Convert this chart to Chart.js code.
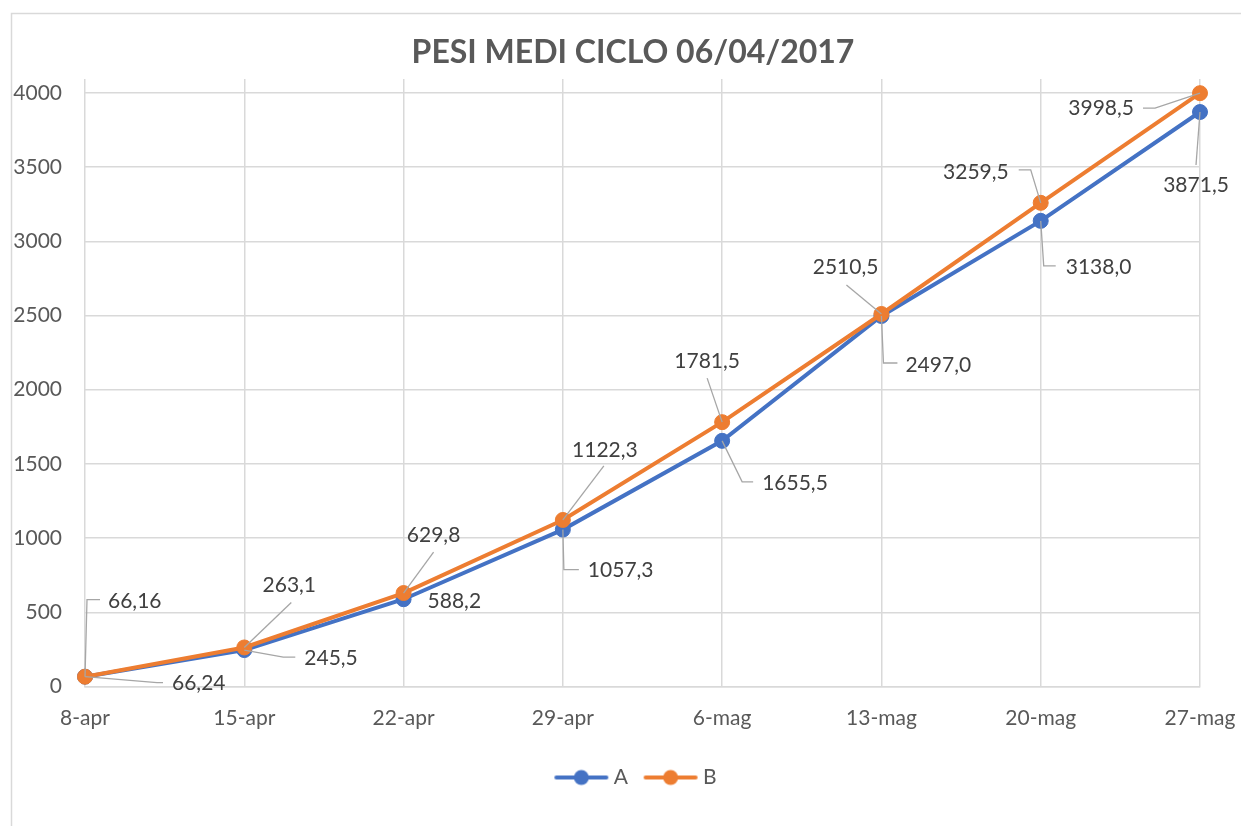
<!DOCTYPE html>
<html><head><meta charset="utf-8">
<script src="https://cdn.jsdelivr.net/npm/chart.js@4.4.1/dist/chart.umd.min.js"></script>
<style>html,body{margin:0;padding:0;background:#fff}#wrap{width:1241px;height:826px;position:relative}</style>
</head><body><div id="wrap"><canvas id="c"></canvas></div>
<script>
const categories = ['8-apr','15-apr','22-apr','29-apr','6-mag','13-mag','20-mag','27-mag'];
const seriesA = [66.24, 245.5, 588.2, 1057.3, 1655.5, 2497.0, 3138.0, 3871.5];
const seriesB = [66.16, 263.1, 629.8, 1122.3, 1781.5, 2510.5, 3259.5, 3998.5];
const yTicks = [0, 500, 1000, 1500, 2000, 2500, 3000, 3500, 4000];
const seriesNames = ['A', 'B'];
const titleText = 'PESI MEDI CICLO 06/04/2017';

// label placement (style only): offsets from the point, alignment, leader polyline
const layoutA = [
  {dx:87, dy:7, align:'left', lead:[[0,0],[72,6],[78,6]]},
  {dx:60, dy:8, align:'left', lead:[[0,0],[39,7],[51,7]]},
  {dx:24, dy:2, align:'left', lead:null},
  {dx:25, dy:41, align:'left', lead:[[0,0],[1,40],[16,40]]},
  {dx:40, dy:42, align:'left', lead:[[0,0],[20,41],[31,41]]},
  {dx:24, dy:49, align:'left', lead:[[0,0],[2,47],[16,47]]},
  {dx:25, dy:46, align:'left', lead:[[0,0],[3,45],[15,45]]},
  {dx:-4, dy:73, align:'center', lead:[[0,0],[-4,53]]}
];
const layoutB = [
  {dx:23, dy:-75, align:'left', lead:[[0,0],[2,-77],[15,-77]]},
  {dx:45, dy:-62, align:'center', lead:[[0,0],[47,-45]]},
  {dx:30, dy:-58, align:'center', lead:[[0,0],[30,-41]]},
  {dx:42, dy:-70, align:'center', lead:[[0,0],[41,-54]]},
  {dx:-15, dy:-61, align:'center', lead:[[0,0],[-15,-44]]},
  {dx:-3, dy:-47, align:'right', lead:[[0,0],[-35,-29]]},
  {dx:-32, dy:-31, align:'right', lead:[[0,0],[-10,-33],[-22,-33]]},
  {dx:-66, dy:15, align:'right', lead:[[0,0],[-45,15],[-57,15]]}
];

const COLORS = ['#4472C4', '#ED7D31'];
const FONT = 'Lato';

const fmt = v => {
  const d = Math.abs(Math.round(v * 10) - v * 10) < 1e-6 ? 1 : 2;
  return v.toFixed(d).replace('.', ',');
};

function legendMarker(color) {
  const c = document.createElement('canvas');
  c.width = 66; c.height = 18;
  const g = c.getContext('2d');
  g.strokeStyle = color; g.lineWidth = 4; g.lineCap = 'round';
  g.beginPath(); g.moveTo(13, 9); g.lineTo(63, 9); g.stroke();
  g.fillStyle = color;
  g.beginPath(); g.arc(38, 9, 7.5, 0, Math.PI * 2); g.fill();
  return c;
}
const markers = COLORS.map(legendMarker);

const bgPlugin = {
  id: 'bg',
  beforeDraw(chart) {
    const ctx = chart.ctx;
    ctx.save();
    ctx.fillStyle = '#fff';
    ctx.fillRect(0, 0, chart.width, chart.height);
    ctx.strokeStyle = '#D9D9D9';
    ctx.lineWidth = 1.5;
    ctx.strokeRect(11.5, 13.5, 1400, 1000);
    ctx.restore();
  }
};

const labelPlugin = {
  id: 'dataLabels',
  afterDatasetsDraw(chart) {
    const ctx = chart.ctx;
    [[0, layoutA], [1, layoutB]].forEach(([di, lay]) => {
      const meta = chart.getDatasetMeta(di);
      const data = chart.data.datasets[di].data;
      meta.data.forEach((pt, i) => {
        const L = lay[i]; const x = pt.x, y = pt.y;
        if (L.lead) {
          ctx.save();
          ctx.strokeStyle = '#A6A6A6'; ctx.lineWidth = 1.3;
          ctx.beginPath();
          L.lead.forEach((p, k) => k ? ctx.lineTo(x + p[0], y + p[1]) : ctx.moveTo(x + p[0], y + p[1]));
          ctx.stroke();
          ctx.restore();
        }
        ctx.save();
        ctx.font = '21px ' + FONT;
        ctx.fillStyle = '#404040';
        ctx.textAlign = L.align;
        ctx.textBaseline = 'middle';
        ctx.fillText(fmt(data[i]), x + L.dx, y + L.dy);
        ctx.restore();
      });
    });
  }
};

new Chart(document.getElementById('c'), {
  type: 'line',
  data: {
    labels: categories,
    datasets: [
      {label: seriesNames[0], data: seriesA, borderColor: COLORS[0], backgroundColor: COLORS[0], pointBackgroundColor: COLORS[0], borderWidth: 4, pointRadius: 7.5, pointBorderWidth: 1, pointHoverRadius: 7.5, tension: 0, order: 1},
      {label: seriesNames[1], data: seriesB, borderColor: COLORS[1], backgroundColor: COLORS[1], pointBackgroundColor: COLORS[1], borderWidth: 4, pointRadius: 7.5, pointBorderWidth: 1, pointHoverRadius: 7.5, tension: 0, order: 0}
    ]
  },
  options: {
    responsive: true, maintainAspectRatio: false, animation: false, devicePixelRatio: 1,
    layout: {padding: {left: 66, right: 41, top: 0, bottom: 28}},
    plugins: {
      title: {display: true, text: titleText, color: '#595959', font: {family: FONT, size: 32, weight: 'bold', lineHeight: 1.2}, padding: {top: 33, bottom: 7.6}},
      legend: {
        position: 'bottom',
        labels: {
          usePointStyle: true, pointStyleWidth: 54, padding: 10.5, color: '#595959',
          font: {family: FONT, size: 21},
          generateLabels(chart) {
            return chart.data.datasets.map((ds, i) => ({
              text: ds.label, pointStyle: markers[i], fillStyle: ds.borderColor, strokeStyle: ds.borderColor,
              lineWidth: 0, hidden: false, datasetIndex: i, fontColor: '#595959'
            }));
          }
        }
      },
      tooltip: {enabled: false}
    },
    scales: {
      x: {
        grid: {color: '#D9D9D9', lineWidth: 1.5, drawTicks: false},
        border: {color: '#D9D9D9', width: 1.5},
        ticks: {color: '#595959', font: {family: FONT, size: 21}, padding: 19, maxRotation: 0, autoSkip: false},
        afterFit(s) { s.height = 70; s.paddingLeft = 0; s.paddingRight = 0; }
      },
      y: {
        min: 0, max: 4094,
        grid: {color: '#D9D9D9', lineWidth: 1.5, drawTicks: false},
        border: {display: false},
        ticks: {color: '#595959', font: {family: FONT, size: 21}, padding: 23, callback: v => String(v)},
        afterBuildTicks(s) { s.ticks = yTicks.map(v => ({value: v})); },
        afterFit(s) { s.width = 19; s._computeLabelArea = () => undefined; }
      }
    }
  },
  plugins: [bgPlugin, labelPlugin]
});
</script>
</body></html>
